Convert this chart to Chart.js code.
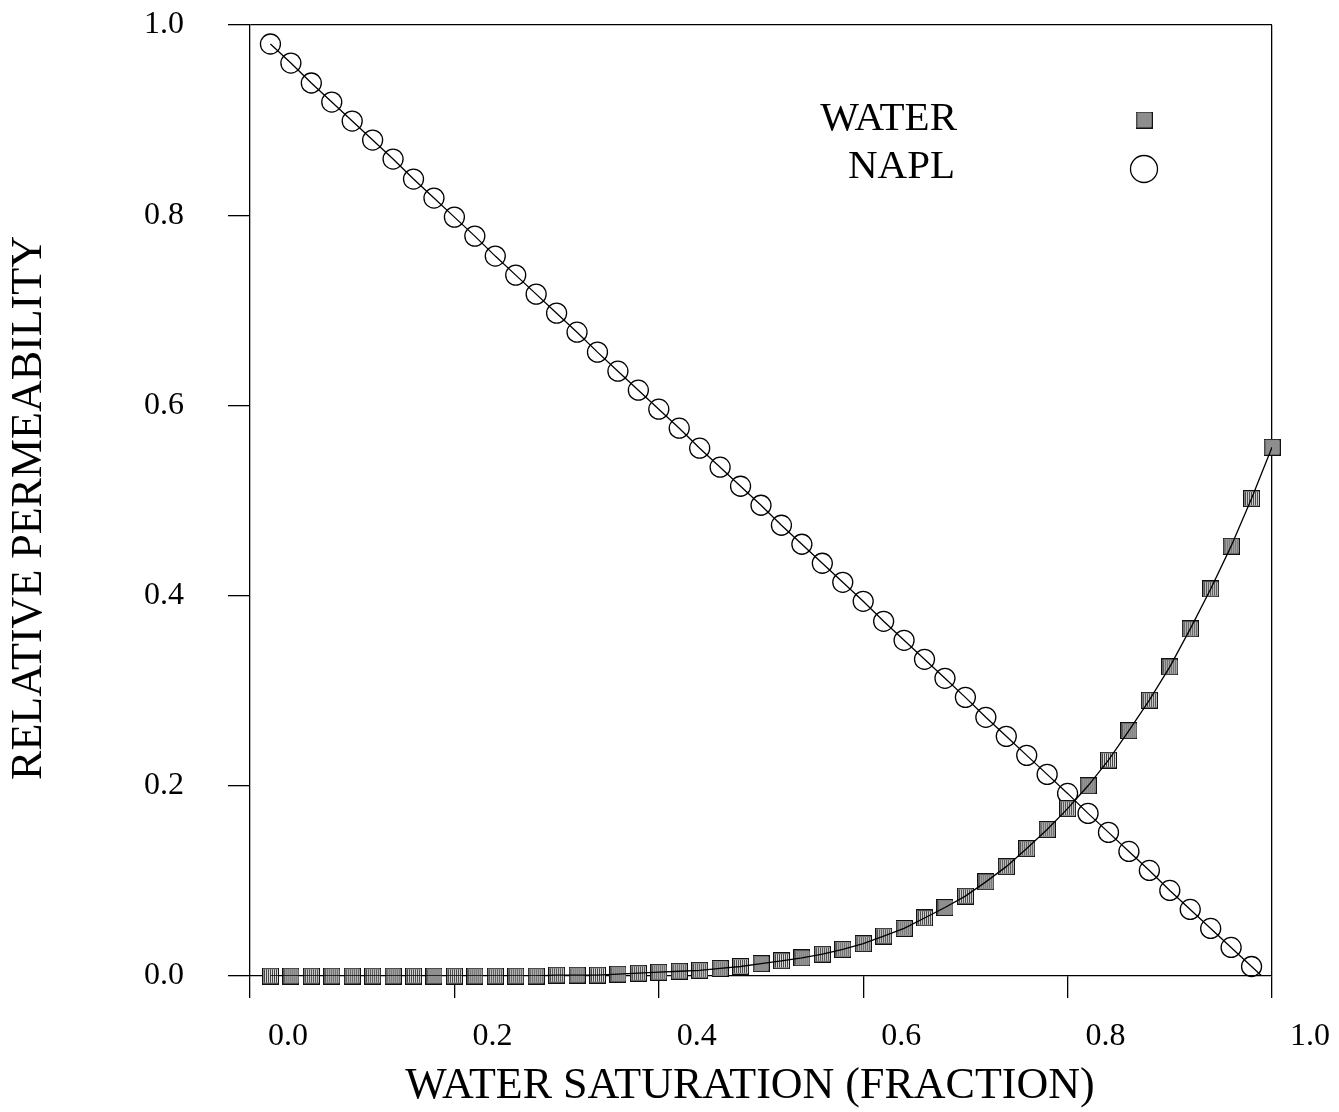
<!DOCTYPE html>
<html>
<head>
<meta charset="utf-8">
<script src="https://cdn.jsdelivr.net/npm/chart.js@4/dist/chart.umd.min.js"></script>
<style>
  html, body { margin: 0; padding: 0; background: #fff; }
  #wrap { width: 1339px; height: 1112px; }
</style>
</head>
<body>
<div id="wrap"><canvas id="c" width="1339" height="1112"></canvas></div>
<script>
// ---- data ----
const waterSaturation = [0.02,0.04,0.06,0.08,0.10,0.12,0.14,0.16,0.18,0.20,
  0.22,0.24,0.26,0.28,0.30,0.32,0.34,0.36,0.38,0.40,
  0.42,0.44,0.46,0.48,0.50,0.52,0.54,0.56,0.58,0.60,
  0.62,0.64,0.66,0.68,0.70,0.72,0.74,0.76,0.78,0.80,
  0.82,0.84,0.86,0.88,0.90,0.92,0.94,0.96,0.98,1.00];
const waterKr = [0.000,0.000,0.000,0.000,0.000,0.000,0.000,0.000,0.000,0.000,
  0.000,0.000,0.000,0.000,0.001,0.001,0.001,0.002,0.003,0.004,
  0.005,0.006,0.008,0.010,0.013,0.016,0.019,0.023,0.028,0.034,
  0.042,0.050,0.061,0.072,0.084,0.099,0.115,0.134,0.154,0.176,
  0.200,0.227,0.258,0.290,0.325,0.365,0.407,0.452,0.502,0.556];
const naplSaturation = [0.02,0.04,0.06,0.08,0.10,0.12,0.14,0.16,0.18,0.20,
  0.22,0.24,0.26,0.28,0.30,0.32,0.34,0.36,0.38,0.40,
  0.42,0.44,0.46,0.48,0.50,0.52,0.54,0.56,0.58,0.60,
  0.62,0.64,0.66,0.68,0.70,0.72,0.74,0.76,0.78,0.80,
  0.82,0.84,0.86,0.88,0.90,0.92,0.94,0.96,0.98];
const naplKr = [0.980,0.960,0.939,0.919,0.899,0.879,0.859,0.838,0.818,0.798,
  0.778,0.757,0.737,0.717,0.697,0.677,0.656,0.636,0.616,0.596,
  0.576,0.555,0.535,0.515,0.495,0.474,0.454,0.434,0.414,0.394,
  0.373,0.353,0.333,0.313,0.293,0.272,0.252,0.232,0.212,0.192,
  0.171,0.151,0.131,0.111,0.090,0.070,0.050,0.030,0.010];
const naplLineEnd = { x: 0.99, y: 0.0 };   // where the NAPL curve meets the axis
const seriesLabels = ['WATER', 'NAPL'];
const xTickValues = [0.0, 0.2, 0.4, 0.6, 0.8, 1.0];
const yTickValues = [0.0, 0.2, 0.4, 0.6, 0.8, 1.0];
const xTitle = 'WATER SATURATION (FRACTION)';
const yTitle = 'RELATIVE PERMEABILITY';

// ---- helpers ----
const FONT = '"Liberation Serif", "Times New Roman", serif';
const toPts = (xs, ys) => xs.map((x, i) => ({ x: x, y: ys[i] }));
const waterPts = toPts(waterSaturation, waterKr);
const naplPts = toPts(naplSaturation, naplKr);

function makeSquare(size) {
  const c = document.createElement('canvas');
  c.width = size; c.height = size;
  const g = c.getContext('2d');
  g.fillStyle = '#8a8a8a';
  g.fillRect(0, 0, size, size);
  for (let i = 2; i < size - 2; i += 2) {
    g.fillStyle = '#444';
    g.fillRect(i, 2, 1, size - 4);
    g.fillStyle = '#d8d8d8';
    g.fillRect(i + 1, 2, 1, size - 4);
  }
  g.strokeStyle = '#111';
  g.lineWidth = 1;
  g.strokeRect(0.5, 0.5, size - 1, size - 1);
  return c;
}
const squareImg = makeSquare(17);

const isOne = v => Math.abs(v - 1) < 1e-9;

// legend (text left of marker) and axis titles, placed as in the reference
const annotations = {
  id: 'annotations',
  afterDatasetsDraw(chart) {
    const ctx = chart.ctx;
    ctx.save();
    ctx.fillStyle = '#000';
    ctx.strokeStyle = '#000';
    ctx.textBaseline = 'middle';
    // legend
    ctx.font = '41px ' + FONT;
    ctx.textAlign = 'right';
    ctx.fillText(seriesLabels[0], 957, 119);
    ctx.fillText(seriesLabels[1], 955, 167);
    ctx.drawImage(squareImg, 1135.5, 111.5);
    ctx.beginPath();
    ctx.lineWidth = 1.3;
    ctx.arc(1144, 169, 13.5, 0, Math.PI * 2);
    ctx.stroke();
    // axis titles
    ctx.font = '44px ' + FONT;
    ctx.textAlign = 'center';
    ctx.fillText(xTitle, 750, 1086);
    ctx.translate(29, 508);
    ctx.rotate(-Math.PI / 2);
    ctx.fillText(yTitle, 0, 0);
    ctx.restore();
  }
};

new Chart(document.getElementById('c'), {
  type: 'scatter',
  data: {
    datasets: [
      { label: seriesLabels[0] + ' curve', data: waterPts, showLine: true, pointRadius: 0,
        borderColor: '#000', borderWidth: 1.3, fill: false },
      { label: seriesLabels[1] + ' curve', data: naplPts.concat([naplLineEnd]), showLine: true, pointRadius: 0,
        borderColor: '#000', borderWidth: 1.3, fill: false },
      { label: seriesLabels[0], data: waterPts, showLine: false, pointStyle: squareImg,
        pointRadius: 8, clip: false },
      { label: seriesLabels[1], data: naplPts, showLine: false, pointStyle: 'circle',
        pointRadius: 10, borderColor: '#000', borderWidth: 1.3,
        backgroundColor: 'rgba(0,0,0,0)', clip: false }
    ]
  },
  options: {
    responsive: false,
    animation: false,
    events: [],
    layout: { padding: { left: 0, top: 25, right: 67, bottom: 0 } },
    plugins: { legend: { display: false }, tooltip: { enabled: false } },
    scales: {
      x: {
        type: 'linear', position: 'bottom', min: 0, max: 1,
        afterBuildTicks: s => { s.ticks = xTickValues.map(v => ({ value: v })); },
        afterFit: s => { s.height = 136; s.paddingLeft = 0; s.paddingRight = 0; },
        ticks: {
          callback: v => Number(v).toFixed(1),
          font: { family: FONT, size: 32 }, color: '#000',
          align: 'start', labelOffset: 18, padding: 19, maxRotation: 0, autoSkip: false
        },
        grid: {
          drawOnChartArea: true, drawTicks: true, tickLength: 22, lineWidth: 1.3,
          color: c => (c.tick && isOne(c.tick.value)) ? '#000' : 'rgba(0,0,0,0)',
          tickColor: '#000'
        },
        border: { display: true, color: '#000', width: 1.3 },
        title: { display: false }
      },
      y: {
        type: 'linear', position: 'left', min: 0, max: 1,
        afterBuildTicks: s => { s.ticks = yTickValues.map(v => ({ value: v })); },
        afterFit: s => { s.width = 250; s.paddingTop = 0; s.paddingBottom = 0; },
        ticks: {
          callback: v => Number(v).toFixed(1),
          font: { family: FONT, size: 32 }, color: '#000', padding: 44
        },
        grid: {
          drawOnChartArea: true, drawTicks: true, tickLength: 22, lineWidth: 1.3,
          color: c => (c.tick && isOne(c.tick.value)) ? '#000' : 'rgba(0,0,0,0)',
          tickColor: '#000'
        },
        border: { display: true, color: '#000', width: 1.3 },
        title: { display: false }
      }
    }
  },
  plugins: [annotations]
});
</script>
</body>
</html>
